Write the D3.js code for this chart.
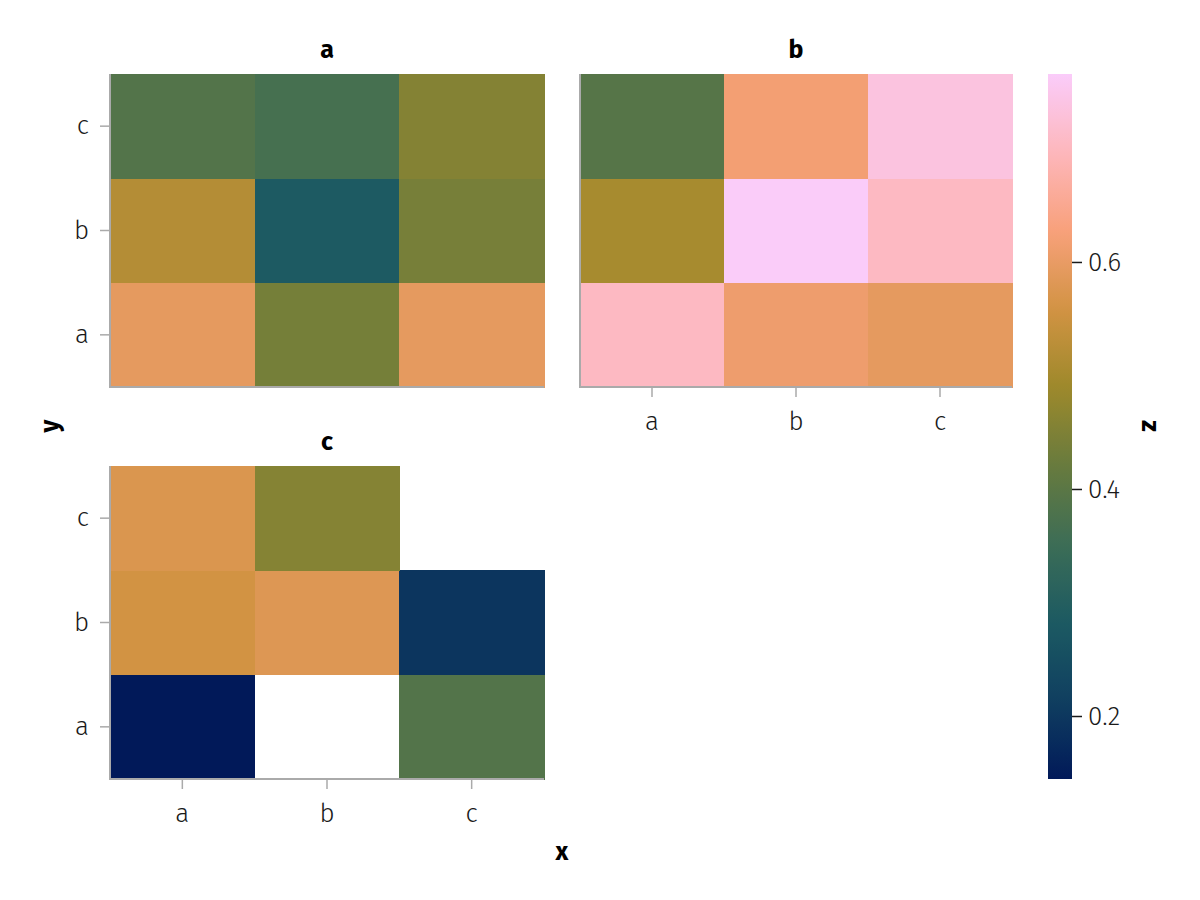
<!DOCTYPE html>
<html>
<head>
<meta charset="utf-8">
<script src="https://cdn.jsdelivr.net/npm/d3@7"></script>
<style>
  html, body { margin: 0; padding: 0; background: #fff; }
  svg { display: block; }
  text { font-family: "Fira Sans", "Open Sans", "Noto Sans", sans-serif; }
</style>
</head>
<body>
<svg id="chart" width="1200" height="900"></svg>
<script>
// ---- data ----
const facets = ["a", "b", "c"];
const xCats = ["a", "b", "c"];
const yCats = ["a", "b", "c"];
// values per facet: rows by y (a,b,c), columns by x (a,b,c); null = missing
const valuesA = [
  [0.593, 0.438, 0.593],   // y = a
  [0.520, 0.284, 0.440],   // y = b
  [0.387, 0.368, 0.457]    // y = c
];
const valuesB = [
  [0.703, 0.610, 0.593],
  [0.502, 0.765, 0.703],
  [0.393, 0.618, 0.736]
];
const valuesC = [
  [0.1445, null, 0.387],
  [0.559, 0.579, 0.195],
  [0.573, 0.458, null]
];
const colorRange = [0.1445, 0.7656];
const colorTicks = [0.2, 0.4, 0.6];
// batlow colormap stops
const batlow = ["#011959", "#103F60", "#1C5A62", "#3C6D56", "#687B3E",
                "#9D892B", "#D29343", "#F8A17B", "#FDB7BC", "#FACCFA"];

// ---- setup ----
const svg = d3.select("#chart");
const interp = d3.piecewise(d3.interpolateRgb, batlow);
const color = d3.scaleSequential(interp).domain(colorRange);

const axisColor = "#aaaaaa";
const textColor = "#1a1a1a";
const tickFont = 26;
const titleFont = 25;

const panels = [
  { name: facets[0], vals: valuesA, x0: 110, x1: 544, y0: 74, y1: 387, yAxis: true, xAxis: false },
  { name: facets[1], vals: valuesB, x0: 580, x1: 1012, y0: 74, y1: 387, yAxis: false, xAxis: true },
  { name: facets[2], vals: valuesC, x0: 110, x1: 544, y0: 466, y1: 779, yAxis: true, xAxis: true }
];

panels.forEach(p => {
  const x = d3.scaleBand().domain(xCats).range([p.x0, p.x1]);
  const y = d3.scaleBand().domain(yCats).range([p.y1, p.y0]);
  const g = svg.append("g");
  const cells = [];
  yCats.forEach((yc, i) => xCats.forEach((xc, j) => {
    const v = p.vals[i][j];
    if (v !== null) cells.push({ x: xc, y: yc, v });
  }));
  g.selectAll("rect").data(cells).join("rect")
    .attr("x", d => x(d.x))
    .attr("y", d => y(d.y))
    .attr("width", x.bandwidth() + 0.5)
    .attr("height", y.bandwidth() + 0.5)
    .attr("fill", d => color(d.v))
    .attr("shape-rendering", "crispEdges");

  // title
  g.append("text")
    .attr("x", (p.x0 + p.x1) / 2)
    .attr("y", p.y0 - 16)
    .attr("text-anchor", "middle")
    .attr("font-size", titleFont)
    .attr("font-weight", 700)
    .attr("fill", "#000")
    .text(p.name);

  const ya = g.append("g").attr("transform", `translate(${p.x0},0)`)
    .call(d3.axisLeft(y).tickSize(p.yAxis ? 10 : 0).tickPadding(11)
      .tickFormat(p.yAxis ? (d => d) : (() => "")));
  const xa = g.append("g").attr("transform", `translate(0,${p.y1})`)
    .call(d3.axisBottom(x).tickSize(p.xAxis ? 10 : 0).tickPadding(15)
      .tickFormat(p.xAxis ? (d => d) : (() => "")));
  [ya, xa].forEach(a => {
    a.select(".domain").remove();
    a.selectAll(".tick line").attr("stroke", axisColor).attr("stroke-width", 1.5);
    a.selectAll(".tick text").attr("fill", textColor)
      .attr("font-size", tickFont).attr("font-weight", 300)
      .style("font-family", '"Fira Sans", "Open Sans", sans-serif');
  });
  g.append("line").attr("x1", p.x0).attr("x2", p.x0).attr("y1", p.y0).attr("y2", p.y1 + 1)
    .attr("stroke", axisColor).attr("stroke-width", 2);
  g.append("line").attr("x1", p.x0 - 1).attr("x2", p.x1).attr("y1", p.y1).attr("y2", p.y1)
    .attr("stroke", axisColor).attr("stroke-width", 2);
});

// axis labels
svg.append("text")
  .attr("x", 562).attr("y", 860)
  .attr("text-anchor", "middle")
  .attr("font-size", titleFont).attr("font-weight", 700).attr("fill", "#000")
  .text("x");
svg.append("text")
  .attr("transform", "translate(58,426) rotate(-90)")
  .attr("text-anchor", "middle")
  .attr("font-size", titleFont).attr("font-weight", 700).attr("fill", "#000")
  .text("y");

// ---- colorbar ----
const cbX = 1048, cbW = 24, cbTop = 74, cbBot = 779;
const cbScale = d3.scaleLinear().domain(colorRange).range([cbBot, cbTop]);
const defs = svg.append("defs");
const grad = defs.append("linearGradient").attr("id", "cbgrad")
  .attr("x1", 0).attr("y1", 1).attr("x2", 0).attr("y2", 0);
d3.range(0, 1.0001, 0.02).forEach(t => {
  grad.append("stop").attr("offset", t)
    .attr("stop-color", color(colorRange[0] + t * (colorRange[1] - colorRange[0])));
});
svg.append("rect").attr("x", cbX).attr("y", cbTop)
  .attr("width", cbW).attr("height", cbBot - cbTop)
  .attr("fill", "url(#cbgrad)");
const cbAxis = svg.append("g").attr("transform", `translate(${cbX + cbW},0)`)
  .call(d3.axisRight(cbScale).tickValues(colorTicks).tickSize(10).tickPadding(6)
    .tickFormat(d3.format(".1f")));
cbAxis.select(".domain").remove();
cbAxis.selectAll(".tick line").attr("stroke", textColor).attr("stroke-width", 1.5);
cbAxis.selectAll(".tick text").attr("fill", textColor)
  .attr("font-size", tickFont).attr("font-weight", 300)
  .style("font-family", '"Fira Sans", "Open Sans", sans-serif');

svg.append("text")
  .attr("transform", "translate(1142,426) rotate(90)")
  .attr("text-anchor", "middle")
  .attr("font-size", titleFont).attr("font-weight", 700).attr("fill", "#000")
  .text("z");
</script>
</body>
</html>
